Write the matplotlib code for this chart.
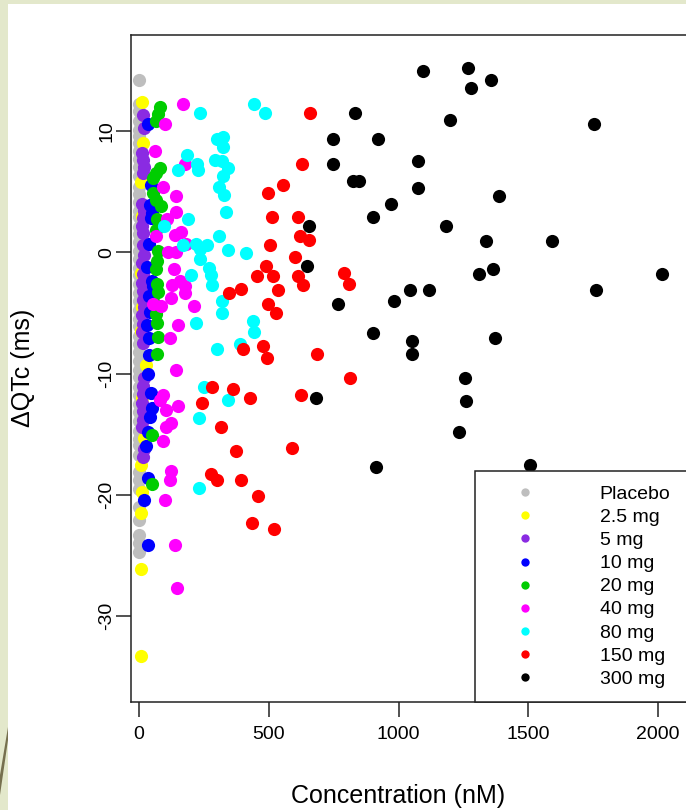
import numpy as np
import matplotlib
matplotlib.use("Agg")
import matplotlib.pyplot as plt
from matplotlib.lines import Line2D
from matplotlib.patches import Rectangle, Polygon

plt.rcParams['font.family'] = ['Liberation Sans', 'DejaVu Sans']
plt.rcParams['axes.unicode_minus'] = False

# values: concentration (nM) and dQTc (ms) per dose group
dose_labels = ["Placebo", "2.5 mg", "5 mg", "10 mg", "20 mg", "40 mg", "80 mg", "150 mg", "300 mg"]
dose_colors = ["#BEBEBE", "#FFFF00", "#8A2BE2", "#0000FF", "#00CD00", "#FF00FF", "#00FFFF", "#FF0000", "#000000"]

placebo_dqtc = [14.2, 12.2, 11.6, 10.8, 10.1, 9.6, 9.0, 8.3, 7.7, 7.0, 6.3, 5.4, 4.8, 4.1, 3.4, 2.9,
                2.1, 1.5, 0.8, 0.1, -0.6, -1.3, -1.9, -2.6, -3.4, -4.0, -4.8, -5.5, -6.1, -6.9, -7.6,
                -8.2, -9.0, -9.7, -10.3, -11.1, -11.8, -12.5, -13.2, -13.9, -14.7, -15.4, -15.9, -16.7,
                -18.1, -18.8, -19.5, -21.0, -22.1, -23.3, -24.0, -24.7]
placebo_conc = [0, 0, 0, 0, 0, 0, 0, 0, 0, 0, 0, 0, 0, 0, 0, 0, 0, 0, 0, 0, 0, 0, 0, 0, 0, 0,
                0, 0, 0, 0, 0, 0, 0, 0, 0, 0, 0, 0, 0, 0, 0, 0, 0, 0, 0, 0, 0, 0, 0, 0, 0, 0]

d2p5_conc = [10, 14, 8, 12, 6, 10, 26, 9, 12, 18, 7, 11, 8, 7, 8]
d2p5_dqtc = [12.4, 9.0, 5.8, 3.0, -1.7, -4.5, -9.3, -6.5, -12.0, -15.3, -17.5, -19.8, -21.5, -26.1, -33.3]

d5_conc = [14, 18, 12, 16, 20, 14, 12, 18, 15, 13, 17, 14, 18, 13, 16, 12,
           17, 14, 19, 13, 16, 12, 15, 18, 14, 16, 12, 17, 15, 13, 19, 14]
d5_dqtc = [11.3, 10.2, 8.2, 7.6, 7.0, 6.5, 4.0, 3.4, 2.8, 2.2, 1.6, 0.6, -0.2, -0.9, -1.8, -2.5,
           -3.2, -3.9, -4.5, -5.2, -5.9, -6.6, -7.5, -10.4, -11.0, -11.7, -12.4, -13.1, -13.8, -14.4,
           -16.2, -16.9]

d10_conc = [36, 46, 41, 50, 45, 37, 32, 50, 54, 40, 41, 30, 37, 37, 35, 47, 50, 42, 35, 28, 35, 19, 34]
d10_dqtc = [10.6, 5.5, 3.9, 3.2, 2.8, 0.7, -1.2, -2.4, -2.8, -3.6, -4.9, -6.0, -7.1, -8.5, -10.0,
            -11.6, -12.8, -13.6, -14.8, -16.0, -18.6, -20.4, -24.1]

d20_conc = [80, 73, 67, 80, 67, 54, 54, 67, 86, 70, 66, 72, 70, 66, 68, 72, 60, 67, 70, 73, 70, 50, 51]
d20_dqtc = [12.0, 11.4, 10.8, 6.9, 6.5, 6.1, 4.9, 4.3, 3.8, 2.7, 1.8, 0.1, -0.7, -1.4, -2.6, -3.3,
            -4.3, -5.1, -5.8, -7.0, -8.4, -15.1, -19.1]

d40_conc = [170, 100, 63, 177, 93, 144, 144, 106, 67, 137, 163, 182, 112, 142, 135, 128, 158, 177, 176,
            125, 54, 86, 210, 150, 118, 144, 92, 80, 150, 105, 125, 105, 93, 125, 118, 100, 139, 145]
d40_dqtc = [12.2, 10.6, 8.3, 7.3, 5.4, 4.6, 3.3, 2.7, 1.3, 1.4, 1.7, 0.7, 0.0, 0.0, -1.4, -2.7, -2.4,
            -2.8, -3.4, -3.8, -4.3, -4.4, -4.4, -6.0, -7.1, -9.7, -11.8, -12.2, -12.7, -13.0, -14.1,
            -14.4, -15.6, -18.0, -18.8, -20.4, -24.1, -27.7]

d80_conc = [443, 486, 236, 300, 325, 323, 292, 320, 344, 325, 183, 151, 222, 226, 308, 329, 335, 188,
            98, 310, 169, 218, 235, 263, 344, 411, 236, 270, 276, 201, 280, 318, 318, 221, 438, 443,
            299, 389, 251, 344, 231, 231]
d80_dqtc = [12.2, 11.5, 11.5, 9.3, 9.5, 8.7, 7.6, 7.5, 6.9, 6.3, 8.0, 6.8, 7.3, 6.8, 5.4, 4.7, 3.3,
            2.7, 2.2, 1.3, 0.6, 0.7, 0.3, 0.6, 0.2, -0.1, -0.6, -1.3, -1.9, -1.9, -2.7, -4.0, -5.0,
            -5.8, -5.7, -6.6, -8.0, -7.6, -11.1, -12.2, -13.7, -19.4]

d150_conc = [659, 627, 554, 496, 511, 614, 620, 656, 505, 601, 489, 453, 518, 614, 633, 790, 809, 348,
             392, 534, 496, 528, 399, 477, 492, 685, 280, 363, 428, 242, 623, 316, 372, 591, 278, 300,
             392, 460, 436, 521, 814]
d150_dqtc = [11.5, 7.3, 5.5, 4.9, 2.9, 2.9, 1.3, 1.0, 0.6, -0.4, -1.1, -2.0, -2.0, -2.0, -2.7, -1.7,
             -2.6, -3.4, -3.0, -3.1, -4.3, -5.0, -8.0, -7.7, -8.7, -8.4, -11.1, -11.3, -12.0, -12.4,
             -11.8, -14.4, -16.4, -16.1, -18.3, -18.8, -18.8, -20.1, -22.3, -22.8, -10.4]

d300_conc = [1094, 1268, 1281, 1355, 834, 1200, 1753, 920, 1076, 826, 848, 1076, 1386, 970, 902, 1182,
             1336, 1591, 1362, 1311, 2015, 1043, 1119, 1760, 981, 902, 1051, 1051, 1373, 1256, 1261,
             1231, 913, 1505, 746, 746, 656, 646, 766, 682]
d300_dqtc = [14.9, 15.2, 13.5, 14.2, 11.5, 10.9, 10.6, 9.3, 7.5, 5.9, 5.9, 5.3, 4.6, 4.0, 2.9, 2.2,
             0.9, 0.9, -1.35, -1.8, -1.8, -3.1, -3.1, -3.1, -4.0, -6.7, -7.3, -8.4, -7.1, -10.4, -12.3,
             -14.8, -17.7, -17.5, 9.3, 7.3, 2.2, -1.1, -4.3, -12.0]

groups = [
    (placebo_conc, placebo_dqtc),
    (d2p5_conc, d2p5_dqtc),
    (d5_conc, d5_dqtc),
    (d10_conc, d10_dqtc),
    (d20_conc, d20_dqtc),
    (d40_conc, d40_dqtc),
    (d80_conc, d80_dqtc),
    (d150_conc, d150_dqtc),
    (d300_conc, d300_dqtc),
]

W, H = 686, 810
fig = plt.figure(figsize=(W / 100, H / 100), dpi=100)
fig.patch.set_facecolor("#E3E8CB")

# slide backdrop: white panel + brown stroke at bottom left
fig.add_artist(Rectangle((8 / W, 0), 1, 1 - 4 / H, transform=fig.transFigure,
                         facecolor="white", edgecolor="none", zorder=0))
stroke = [(0, 775), (8, 727), (8, 740), (0, 795)]
fig.add_artist(Polygon([(x / W, 1 - y / H) for x, y in stroke], closed=True,
                       transform=fig.transFigure, facecolor="#76704F", edgecolor="none", zorder=0))

# plot box; right edge runs past the picture like in the reference
ax = fig.add_axes([131 / W, 108 / H, 566 / W, 667 / H])
ax.set_zorder(2)

for (cx, cy), col in zip(groups, dose_colors):
    ax.scatter(cx, cy, s=90, color=col, linewidths=0, zorder=3)

ax.set_xlim(-31, 2150)
ax.set_ylim(-37.07, 17.9)
ax.set_xticks([0, 500, 1000, 1500, 2000])
ax.set_yticks([-30, -20, -10, 0, 10])
ax.tick_params(direction="out", length=10.5, width=1.1, labelsize=14, color="#222222")
ax.tick_params(axis="x", pad=7)
ax.tick_params(axis="y", pad=1)
for lab in ax.get_yticklabels():
    lab.set_rotation(90)
    lab.set_va("center")
for sp in ax.spines.values():
    sp.set_linewidth(1.1)
    sp.set_color("#222222")

fig.text(398 / W, 1 - 796 / H, "Concentration (nM)", ha="center", va="center", fontsize=18)
fig.text(23 / W, 1 - 368 / H, "\u0394QTc (ms)", ha="center", va="center", rotation=90, fontsize=18)

handles = [Line2D([], [], marker="o", ls="", color=c, markersize=6, markeredgewidth=0)
           for c in dose_colors]
leg = ax.legend(handles, dose_labels, loc="lower left", mode="expand",
                bbox_to_anchor=((474.7 - 131) / 566, 0, 1 - (474.7 - 131) / 566, 0.3),
                borderaxespad=0, fontsize=14, fancybox=False, framealpha=1,
                edgecolor="#222222", borderpad=0.74, handlelength=3.67, handletextpad=2.02,
                labelspacing=0.28)
leg.get_frame().set_linewidth(1.1)
leg.set_zorder(4)

fig.savefig("out.png", dpi=100, facecolor=fig.get_facecolor())
